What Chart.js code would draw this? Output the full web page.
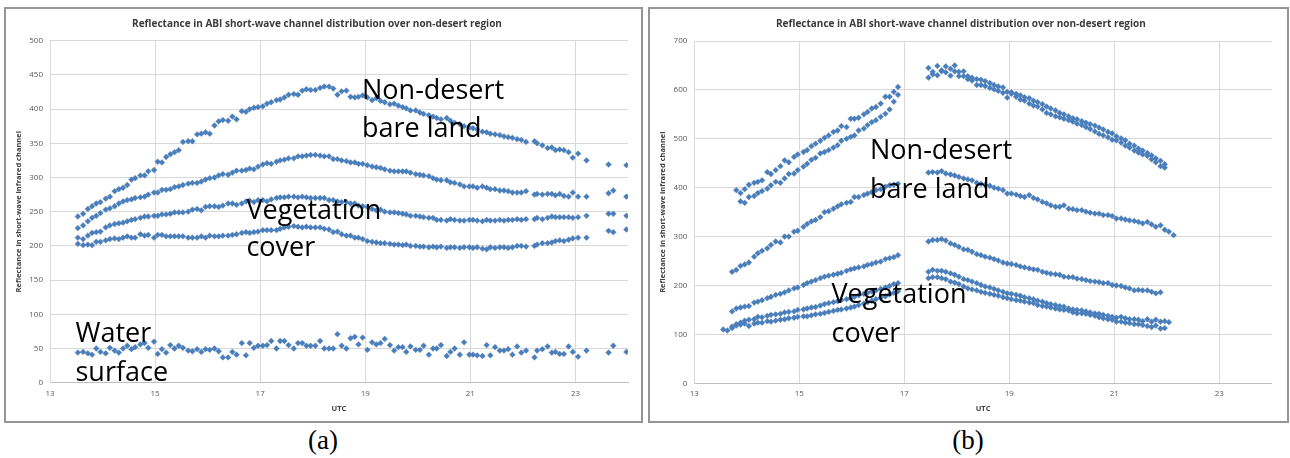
<!DOCTYPE html>
<html>
<head>
<meta charset="utf-8">
<script src="https://cdn.jsdelivr.net/npm/chart.js@4/dist/chart.umd.min.js"></script>
<style>
  html, body { margin: 0; padding: 0; background: #fff; }
  body { width: 1290px; height: 458px; position: relative; overflow: hidden; }
  .panel { position: absolute; box-sizing: border-box; border: 2px solid #959595; background: #fff; }
  .panel canvas { position: absolute; left: 0; top: 0; }
  .cap { position: absolute; width: 100px; text-align: center; font-family: "Liberation Serif", "Times New Roman", serif;
         font-size: 27px; line-height: 27px; color: #000; }
</style>
</head>
<body>
<div class="panel" style="left:4px;top:7px;width:639px;height:416px;">
  <canvas id="chartA" width="635" height="412"></canvas>
</div>
<div class="panel" style="left:648px;top:7px;width:641px;height:416px;">
  <canvas id="chartB" width="637" height="412"></canvas>
</div>
<div class="cap" style="left:273px;top:427px;">(a)</div>
<div class="cap" style="left:918px;top:427px;">(b)</div>

<script>
// ---- shared labels -------------------------------------------------------
const chartTitle = 'Reflectance in ABI short-wave channel distribution over non-desert region';
const xAxisTitle = 'UTC';
const yAxisTitle = 'Reflectance in short-wave infrared channel';
const xTicks = [13, 15, 17, 19, 21, 23];
const yTicksA = [0, 50, 100, 150, 200, 250, 300, 350, 400, 450, 500];
const yTicksB = [0, 100, 200, 300, 400, 500, 600, 700];

// ---- panel (a): scan times (UTC hours) and site reflectances --------------
const utcA = [
  13.53,13.63,13.72,13.80,13.88,13.96,14.06,14.14,14.23,14.31,
  14.39,14.47,14.55,14.62,14.72,14.80,14.87,14.98,15.05,15.13,
  15.21,15.29,15.37,15.45,15.53,15.63,15.71,15.80,15.88,15.96,
  16.04,16.13,16.21,16.29,16.39,16.47,16.55,16.65,16.73,16.80,
  16.88,16.96,17.05,17.13,17.21,17.31,17.38,17.46,17.54,17.64,
  17.72,17.80,17.88,17.96,18.05,18.14,18.22,18.31,18.39,18.47,
  18.55,18.64,18.72,18.80,18.87,18.95,19.04,19.13,19.21,19.29,
  19.37,19.47,19.55,19.63,19.71,19.78,19.86,19.96,20.04,20.11,
  20.21,20.29,20.36,20.44,20.55,20.62,20.70,20.80,20.88,20.98,
  21.05,21.13,21.23,21.31,21.38,21.47,21.56,21.64,21.72,21.80,
  21.89,21.97,22.06,22.22,22.27,22.37,22.47,22.55,22.62,22.70,
  22.78,22.87,22.95,23.05,23.21,23.63,23.72,23.97
];
const bareLandA = [
  243,247,254,258,262,264,269,272,280,283,
  285,289,297,299,303,303,309,311,323,322,
  330,334,337,340,352,353,353,363,364,366,
  364,376,382,384,383,389,385,397,396,400,
  402,403,404,408,410,413,414,417,421,422,
  421,427,429,428,428,431,433,433,430,421,
  426,427,418,417,418,420,417,413,416,412,
  410,407,408,405,403,401,398,398,395,393,
  391,389,387,385,387,383,380,378,375,373,
  372,370,367,366,364,363,362,360,359,358,
  356,355,352,353,350,347,343,344,340,341,
  340,337,329,335,325,319,null,318
];
const mixedLandA = [
  226,230,236,241,244,248,253,255,258,262,
  265,267,268,270,271,272,275,278,278,282,
  282,283,286,287,289,291,292,292,294,297,
  299,300,303,305,304,307,310,310,311,313,
  312,316,319,321,320,323,325,326,328,328,
  331,331,332,333,333,332,331,331,327,327,
  325,324,322,322,320,320,318,316,315,314,
  312,310,309,309,309,309,307,305,304,303,
  302,299,297,296,296,293,292,290,287,287,
  287,285,287,285,283,283,281,281,280,278,
  278,278,280,275,276,275,276,276,274,276,
  273,272,278,272,272,277,281,272
];
const vegetationA1 = [
  212,210,215,219,220,221,227,230,232,233,
  234,236,238,239,241,243,243,244,244,246,
  246,247,249,249,249,250,253,254,252,257,
  258,258,257,259,262,262,260,262,265,266,
  264,267,267,265,268,270,271,271,272,272,
  271,272,271,270,270,270,270,267,267,265,
  264,264,262,262,259,258,257,254,252,253,
  250,249,249,248,247,246,244,244,243,242,
  241,241,238,238,237,239,238,237,237,238,
  238,237,236,238,237,237,238,237,238,238,
  239,238,239,239,241,239,241,243,242,242,
  242,242,241,242,244,247,247,244
];
const vegetationA2 = [
  203,201,202,201,206,206,208,210,211,210,
  212,214,212,212,217,215,216,212,216,216,
  214,214,214,214,214,212,212,212,214,212,
  215,214,214,215,215,216,217,219,220,219,
  220,221,223,223,223,223,225,227,228,229,
  228,227,228,227,227,227,225,224,220,221,
  217,215,215,212,212,210,207,206,205,204,
  204,203,202,202,201,202,200,200,199,199,
  198,199,198,199,197,198,198,197,198,198,
  197,198,196,195,198,197,198,198,197,198,
  200,200,199,200,202,204,204,205,207,208,
  207,209,211,212,212,222,220,224
];
const waterA = [
  44,45,43,41,50,45,43,51,47,44,
  50,54,49,52,56,58,51,60,42,49,
  44,55,50,54,51,47,46,49,45,49,
  48,50,46,37,37,45,41,58,40,58,
  51,54,54,55,61,50,61,61,55,50,
  58,58,54,54,54,61,50,50,50,71,
  54,50,65,67,56,66,48,59,56,58,
  64,55,47,52,52,45,53,48,48,54,
  41,50,50,55,39,45,50,41,59,41,
  41,40,39,55,40,52,47,47,49,41,
  53,44,47,37,47,49,53,44,45,42,
  42,53,45,38,47,44,54,45
];

// ---- panel (b): morning and afternoon scan times --------------------------
const utcB1 = [
  13.55,13.63,13.72,13.80,13.88,13.96,14.04,14.14,14.21,14.29,
  14.39,14.46,14.55,14.64,14.72,14.80,14.90,14.97,15.08,15.15,
  15.23,15.31,15.40,15.48,15.56,15.65,15.73,15.80,15.90,15.98,
  16.05,16.13,16.23,16.30,16.38,16.46,16.55,16.64,16.72,16.80,
  16.88
];
const utcB2 = [
  17.46,17.54,17.63,17.71,17.79,17.88,17.96,18.04,18.13,18.21,
  18.29,18.38,18.46,18.54,18.63,18.71,18.79,18.88,18.96,19.04,
  19.13,19.21,19.29,19.38,19.46,19.54,19.63,19.71,19.79,19.88,
  19.96,20.04,20.13,20.21,20.29,20.38,20.46,20.54,20.63,20.71,
  20.79,20.88,20.96,21.04,21.13,21.21,21.29,21.38,21.46,21.54,
  21.63,21.71,21.79,21.88,21.96,22.04,22.13
];
const bareLandB1Am = [
  null,null,null,395,389,397,406,410,412,415,
  432,428,436,444,456,452,463,468,473,477,
  485,490,496,502,507,514,517,526,524,541,
  541,543,550,555,562,565,572,586,586,596,
  606
];
const bareLandB1Pm = [
  645,637,649,640,648,643,650,637,638,628,
  625,622,621,618,614,610,607,605,596,595,
  592,589,585,583,578,575,571,566,562,558,
  553,550,546,542,540,536,533,530,527,523,
  519,514,511,505,501,497,490,486,480,476,
  471,466,460,455,448,null,null
];
const bareLandB2Am = [
  null,null,null,null,372,369,381,383,389,393,
  398,405,412,410,419,428,429,436,443,449,
  457,461,470,473,477,482,487,496,500,504,
  507,517,521,528,534,538,545,551,560,576,
  590
];
const bareLandB2Pm = [
  625,632,630,638,636,629,638,628,628,622,
  619,610,610,608,604,601,598,594,584,592,
  586,580,578,572,568,566,560,553,550,546,
  544,541,538,535,531,528,524,520,515,510,
  507,503,498,497,492,486,482,476,472,468,
  465,458,452,444,441,null,null
];
const bareLandB3Am = [
  null,null,228,232,240,243,247,259,266,271,
  276,283,290,288,300,300,310,312,320,326,
  331,334,340,350,352,357,362,366,369,371,
  381,381,385,388,391,395,397,402,405,406,
  408
];
const bareLandB3Pm = [
  431,432,431,434,429,427,425,422,419,417,
  415,410,408,406,404,400,398,395,388,388,
  386,383,381,385,379,376,371,368,364,361,
  361,364,357,356,354,354,351,349,347,347,
  344,344,342,337,337,335,333,332,330,327,
  330,325,320,323,314,310,303
];
const vegetationB1Am = [
  null,null,147,153,155,157,158,165,167,170,
  174,177,181,183,186,190,194,196,201,205,
  208,211,215,218,220,222,224,226,230,233,
  235,237,239,242,244,247,249,254,256,258,
  262
];
const vegetationB1Pm = [
  290,293,293,295,292,286,283,279,274,273,
  269,264,262,259,257,254,251,247,245,244,
  242,239,237,235,233,232,228,226,224,223,
  222,218,217,217,214,213,211,209,208,207,
  205,205,201,200,199,196,194,190,191,190,
  190,187,184,186,null,null,null
];
const vegetationB2Am = [
  110,108,116,121,124,128,130,131,136,135,
  138,140,141,142,145,146,147,150,151,153,
  155,156,159,162,164,166,168,170,172,174,
  177,180,183,185,188,190,193,196,199,203,
  205
];
const vegetationB2Pm = [
  228,232,230,230,228,225,222,218,213,211,
  208,205,201,198,196,193,190,187,184,183,
  181,179,176,174,172,169,167,164,162,160,
  158,157,153,151,150,149,147,145,143,142,
  140,138,136,134,136,133,131,131,130,127,
  131,126,130,126,127,125,null
];
const vegetationB3Am = [
  null,null,113,118,120,122,117,122,124,124,
  127,126,128,130,131,133,134,136,137,137,
  139,141,142,144,146,148,150,151,153,155,
  157,160,163,166,169,172,175,178,182,185,
  188
];
const vegetationB3Pm = [
  215,217,217,215,213,208,206,203,198,194,
  192,190,187,185,183,181,179,176,174,172,
  170,169,167,165,164,160,158,157,155,153,
  151,150,149,145,143,143,142,140,138,135,
  133,131,130,126,126,124,123,121,121,119,
  117,115,118,112,113,null,null
];

// ---- drawing --------------------------------------------------------------
const FONT = '"Open Sans", "Noto Sans", sans-serif';
const MARKER = '#4a7ebb';

function points(times, values) {
  const out = [];
  times.forEach((t, i) => { if (values[i] !== null) out.push({ x: t, y: values[i] }); });
  return out;
}
function series(data) {
  return {
    data, showLine: false, pointStyle: 'rectRot', pointRadius: 2.9,
    pointBackgroundColor: MARKER, pointBorderColor: MARKER, pointBorderWidth: 0.4
  };
}

// big text labels placed over the plot
const overlayLabels = {
  id: 'overlayLabels',
  afterDatasetsDraw(chart, args, opts) {
    const ctx = chart.ctx;
    ctx.save();
    ctx.fillStyle = '#000';
    ctx.font = '27px ' + FONT;
    ctx.textBaseline = 'alphabetic';
    ctx.textAlign = 'left';
    (opts.items || []).forEach(it => ctx.fillText(it.text, it.x, it.y));
    ctx.restore();
  }
};

function makeChart(canvasId, datasets, yTicks, yMax, g, labels) {
  return new Chart(document.getElementById(canvasId), {
    type: 'scatter',
    data: { datasets },
    plugins: [overlayLabels],
    options: {
      responsive: false, animation: false, devicePixelRatio: 1,
      layout: { padding: { left: 0, right: g.padRight, top: 0, bottom: 0 } },
      plugins: {
        legend: { display: false },
        tooltip: { enabled: false },
        title: {
          display: true, text: chartTitle, color: '#3b3b3b',
          font: { family: FONT, size: 10, weight: 'bold' },
          padding: { top: g.titleTop, bottom: g.titleBottom }
        },
        overlayLabels: { items: labels }
      },
      scales: {
        x: {
          type: 'linear', min: 13, max: 24,
          afterBuildTicks: s => { s.ticks = xTicks.map(v => ({ value: v })); },
          afterFit: s => { s.height = g.xHeight; },
          grid: { color: '#d9d9d9', drawTicks: false },
          border: { color: '#bfbfbf' },
          ticks: { color: '#595959', font: { family: FONT, size: 8 }, padding: 6, maxRotation: 0 },
          title: { display: true, text: xAxisTitle, color: '#404040',
                   font: { family: FONT, size: 7.5, weight: 'bold' }, padding: { top: 8, bottom: 8 } }
        },
        y: {
          type: 'linear', min: 0, max: yMax,
          afterBuildTicks: s => { s.ticks = yTicks.map(v => ({ value: v })); },
          afterFit: s => { s.width = g.yWidth; },
          grid: { color: '#d9d9d9', drawTicks: false },
          border: { color: '#d9d9d9' },
          ticks: { color: '#595959', font: { family: FONT, size: 8 }, padding: 7 },
          title: { display: true, text: yAxisTitle, color: '#404040',
                   font: { family: FONT, size: 7.5, weight: 'bold' }, padding: { top: 8, bottom: 8 } }
        }
      }
    }
  });
}

makeChart('chartA', [
  series(points(utcA, bareLandA)),
  series(points(utcA, mixedLandA)),
  series(points(utcA, vegetationA1)),
  series(points(utcA, vegetationA2)),
  series(points(utcA, waterA))
], yTicksA, 500,
{ padRight: 13, titleTop: 9.0, titleBottom: 10.7, xHeight: 38.3, yWidth: 44 },
[
  { text: 'Non-desert', x: 356, y: 90 },
  { text: 'bare land', x: 356, y: 128 },
  { text: 'Vegetation', x: 240.4, y: 210 },
  { text: 'cover', x: 240.4, y: 246.5 },
  { text: 'Water', x: 69.5, y: 332.5 },
  { text: 'surface', x: 69.5, y: 372 }
]);

makeChart('chartB', [
  series(points(utcB1, bareLandB1Am).concat(points(utcB2, bareLandB1Pm))),
  series(points(utcB1, bareLandB2Am).concat(points(utcB2, bareLandB2Pm))),
  series(points(utcB1, bareLandB3Am).concat(points(utcB2, bareLandB3Pm))),
  series(points(utcB1, vegetationB1Am).concat(points(utcB2, vegetationB1Pm))),
  series(points(utcB1, vegetationB2Am).concat(points(utcB2, vegetationB2Pm))),
  series(points(utcB1, vegetationB3Am).concat(points(utcB2, vegetationB3Pm)))
], yTicksB, 700,
{ padRight: 15.2, titleTop: 9.0, titleBottom: 11.0, xHeight: 37.7, yWidth: 44.3 },
[
  { text: 'Non-desert', x: 220, y: 150 },
  { text: 'bare land', x: 220, y: 189 },
  { text: 'Vegetation', x: 181.5, y: 294 },
  { text: 'cover', x: 181.5, y: 332.5 }
]);
</script>
</body>
</html>
